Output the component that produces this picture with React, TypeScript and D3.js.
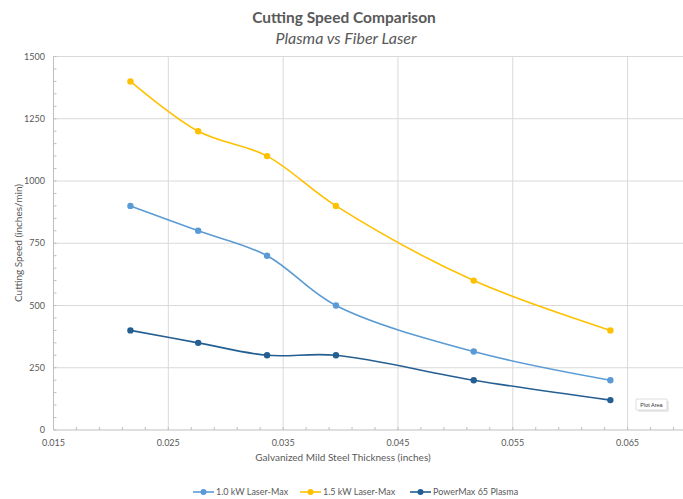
import React from "react";
import * as d3 from "d3";

const thickness = [0.0217, 0.0276, 0.0336, 0.0396, 0.0516, 0.0635];
const laser10 = [900, 800, 700, 500, 315, 200];
const laser15 = [1400, 1200, 1100, 900, 600, 400];
const plasma = [400, 350, 300, 300, 200, 120];
const seriesNames = ["1.0 kW Laser-Max", "1.5 kW Laser-Max", "PowerMax 65 Plasma"];
const seriesColors = ["#5B9BD5", "#FFC000", "#255E91"];
const xTicks = [0.015, 0.025, 0.035, 0.045, 0.055, 0.065];
const yTicks = [0, 250, 500, 750, 1000, 1250, 1500];

const W = 683;
const H = 499;
const FONT = "Lato, 'Open Sans', sans-serif";

export default function App() {
  const x = d3.scaleLinear().domain([0.015, 0.07]).range([53.5, 685]);
  const y = d3.scaleLinear().domain([0, 1500]).range([430, 56.5]);
  const series = [laser10, laser15, plasma];
  const line = d3
    .line<[number, number]>()
    .x((d) => x(d[0]))
    .y((d) => y(d[1]))
    .curve(d3.curveCatmullRom.alpha(0.5));

  const xMinor = d3.range(0.015, 0.0701, 0.002);
  const yMinor = d3.range(0, 1501, 50);
  const legendX = [193, 300, 410];

  return (
    <svg
      width={W}
      height={H}
      style={{ position: "absolute", left: 0, top: 0, background: "#fff" }}
      fontFamily={FONT}
    >
      <text x={344} y={23} textAnchor="middle" fontSize={15.5} fontWeight="bold" fill="#595959">
        Cutting Speed Comparison
      </text>
      <text x={346} y={44} textAnchor="middle" fontSize={16} fontStyle="italic" fill="#595959">
        Plasma vs Fiber Laser
      </text>

      {/* gridlines */}
      {yTicks.slice(1).map((t) => (
        <line key={"gy" + t} x1={53.5} x2={W} y1={y(t)} y2={y(t)} stroke="#d9d9d9" strokeWidth={1} />
      ))}
      {xTicks.slice(1).map((t) => (
        <line key={"gx" + t} x1={x(t)} x2={x(t)} y1={y(1500)} y2={y(0)} stroke="#d9d9d9" strokeWidth={1} />
      ))}
      {/* axes */}
      <line x1={53.5} x2={53.5} y1={y(1500)} y2={y(0)} stroke="#bfbfbf" />
      <line x1={53.5} x2={W} y1={y(0)} y2={y(0)} stroke="#bfbfbf" />
      {xMinor.map((t) => (
        <line key={"mx" + t} x1={x(t)} x2={x(t)} y1={y(0)} y2={y(0) - 3} stroke="#bfbfbf" />
      ))}
      {yMinor.map((t) => (
        <line key={"my" + t} x1={53.5} x2={56.5} y1={y(t)} y2={y(t)} stroke="#bfbfbf" />
      ))}
      {yTicks.map((t) => (
        <text key={"ly" + t} x={45} y={y(t) + 3} textAnchor="end" fontSize={9} fill="#595959">
          {t}
        </text>
      ))}
      {xTicks.map((t) => (
        <text key={"lx" + t} x={x(t)} y={446} textAnchor="middle" fontSize={9} fill="#595959">
          {d3.format(".3f")(t)}
        </text>
      ))}
      <text x={343} y={461} textAnchor="middle" fontSize={10} fill="#595959">
        Galvanized Mild Steel Thickness (inches)
      </text>
      <text
        transform={`translate(22,243) rotate(-90)`}
        textAnchor="middle"
        fontSize={10}
        fill="#595959"
      >
        Cutting Speed (inches/min)
      </text>

      {/* series */}
      {series.map((vals, i) => {
        const pts = thickness.map((t, j) => [t, vals[j]] as [number, number]);
        return (
          <g key={"s" + i}>
            <path d={line(pts) || ""} fill="none" stroke={seriesColors[i]} strokeWidth={1.6} />
            {pts.map((p, j) => (
              <circle key={j} cx={x(p[0])} cy={y(p[1])} r={3.2} fill={seriesColors[i]} />
            ))}
          </g>
        );
      })}

      {/* Plot Area tooltip */}
      <g>
        <rect x={637} y={400} width={31} height={11} fill="#000" opacity={0.08} rx={1} transform="translate(1,1)" />
        <rect x={636} y={399} width={31} height={11} fill="#fff" stroke="#c8c8c8" strokeWidth={0.6} rx={1} />
        <text x={651.5} y={407} textAnchor="middle" fontSize={5.5} fill="#333" fontFamily="'Liberation Sans', Arial, sans-serif">
          Plot Area
        </text>
      </g>

      {/* legend */}
      {seriesNames.map((n, i) => (
        <g key={"lg" + i}>
          <line x1={legendX[i]} x2={legendX[i] + 21} y1={492} y2={492} stroke={seriesColors[i]} strokeWidth={1.6} />
          <circle cx={legendX[i] + 10.5} cy={492} r={3} fill={seriesColors[i]} />
          <text x={legendX[i] + 23} y={495} fontSize={9} fill="#595959">
            {n}
          </text>
        </g>
      ))}
    </svg>
  );
}
